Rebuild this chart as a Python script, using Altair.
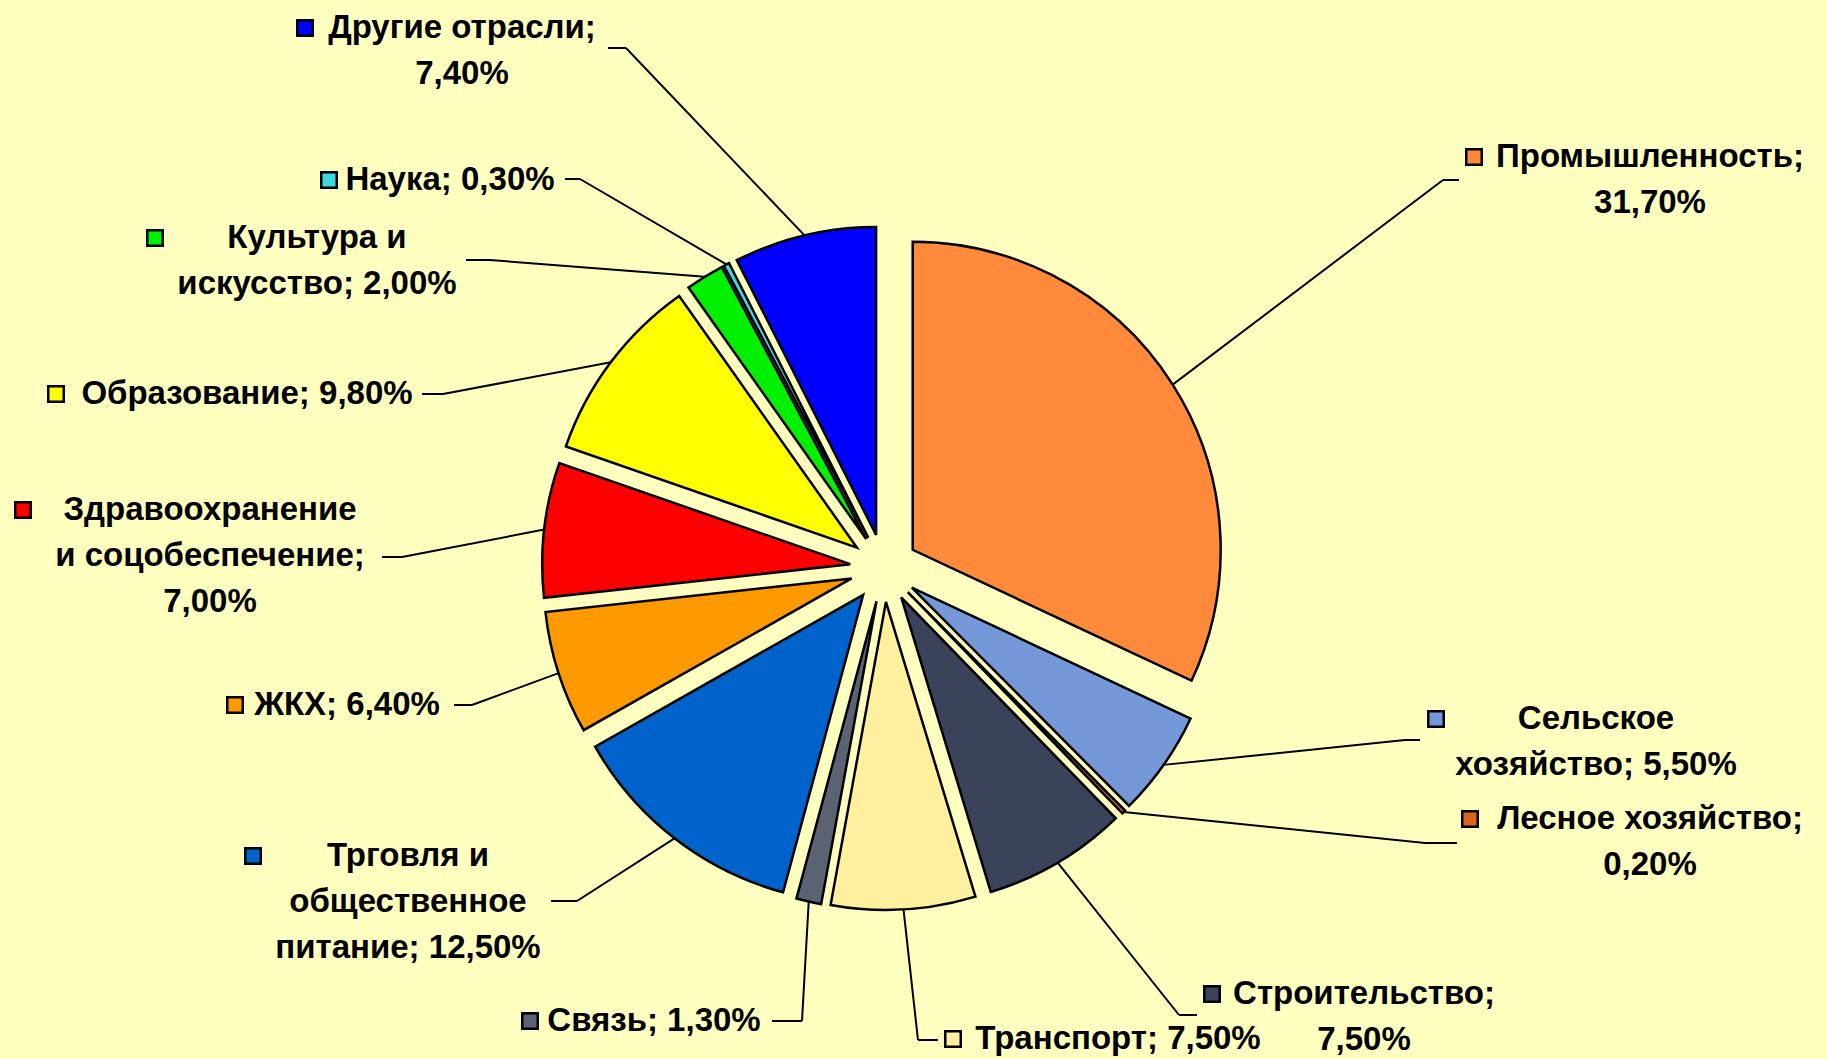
import math
import altair as alt
import pandas as pd

# ---------------- data ----------------
categories = [
    "Промышленность", "Сельское хозяйство", "Лесное хозяйство", "Строительство",
    "Транспорт", "Связь", "Трговля и общественное питание", "ЖКХ",
    "Здравоохранение и соцобеспечение", "Образование", "Культура и искусство",
    "Наука", "Другие отрасли",
]
values = [31.7, 5.5, 0.2, 7.5, 7.5, 1.3, 12.5, 6.4, 7.0, 9.8, 2.0, 0.3, 7.4]
label_templates = [
    ["Промышленность;", "{p}"],
    ["Сельское", "хозяйство; {p}"],
    ["Лесное хозяйство;", "{p}"],
    ["Строительство;", "{p}"],
    ["Транспорт; {p}"],
    ["Связь; {p}"],
    ["Трговля и", "общественное", "питание; {p}"],
    ["ЖКХ; {p}"],
    ["Здравоохранение", "и соцобеспечение;", "{p}"],
    ["Образование; {p}"],
    ["Культура и", "искусство; {p}"],
    ["Наука; {p}"],
    ["Другие отрасли;", "{p}"],
]

# ---------------- style ----------------
colors = [
    "#FF8A3C", "#7598D8", "#D9661F", "#3B435A", "#FFF0A0", "#5B6272",
    "#0063CC", "#FF9900", "#FF0000", "#FFFF00", "#00F000", "#40D8E0", "#0000FF",
]
BG = "#FFFFC0"
FONT = "Liberation Sans"
FONT_SIZE = 33
LINE_H = 46

# ---------------- layout (pixels) ----------------
W, H = 1827, 1059
CX, CY = 884, 568
R = 308
EXPLODE = 34
label_cx = [1650, 1596, 1650, 1364, 1118, 654, 408, 347, 210, 247, 317, 450, 462]
label_y1 = [157, 719, 819, 994, 1039, 1021, 856, 705, 510, 394, 238, 180, 28]
key_x = [1474, 1436, 1470, 1212, 953, 530, 253, 235, 23, 56, 155, 329, 305]
elbow_x = [1443, 1405, 1425, 1179, 918, 802, 577, 472, 402, 443, 490, 580, 626]
elbow_y = [180, 740, 843, 1015, 1040, 1021, 901, 705, 557, 394, 260, 179, 48]
end_x = [1459, 1420, 1457, 1197, 938, 772, 551, 454, 382, 422, 466, 565, 608]

TOTAL = sum(values)

def pct(v):
    return f"{v:.2f}".replace(".", ",") + "%"

df = pd.DataFrame({
    "category": categories,
    "value": values,
    "order": list(range(len(categories))),
    "elbow_x": elbow_x,
    "elbow_y": elbow_y,
    "end_x": end_x,
})

text_rows = []
for i, (cat, v, tpl) in enumerate(zip(categories, values, label_templates)):
    for j, line in enumerate(tpl):
        text_rows.append({"category": cat, "text": line.format(p=pct(v)),
                          "x": label_cx[i], "y": label_y1[i] + j * LINE_H})
df_text = pd.DataFrame(text_rows)
df_keys = pd.DataFrame({"category": categories, "x": key_x, "y": label_y1})

color = alt.Color("category:N", scale=alt.Scale(domain=categories, range=colors), legend=None)

base = (
    alt.Chart(df)
    .transform_window(s1="sum(value)", sort=[alt.SortField("order", order="ascending")], frame=[None, 0])
    .transform_calculate(s0="datum.s1 - datum.value")
    .transform_calculate(mid=f"(datum.s1 - datum.value / 2) / {TOTAL} * 2 * PI")
    .transform_calculate(cx=f"{CX} + {EXPLODE} * sin(datum.mid)")
    .transform_calculate(cy=f"{CY} - {EXPLODE} * cos(datum.mid)")
    .transform_calculate(sx=f"datum.cx + {R} * sin(datum.mid)")
    .transform_calculate(sy=f"datum.cy - {R} * cos(datum.mid)")
)

arcs = base.mark_arc(radius=R, stroke="black", strokeWidth=2.5, strokeJoin="miter").encode(
    theta=alt.Theta("s0:Q", scale=alt.Scale(domain=[0, TOTAL], range=[0, 2 * math.pi])),
    theta2="s1:Q",
    x=alt.X("cx:Q", scale=None, axis=None),
    y=alt.Y("cy:Q", scale=None, axis=None),
    color=color,
)

leader1 = base.mark_rule(color="black", strokeWidth=2).encode(
    x=alt.X("sx:Q", scale=None, axis=None),
    y=alt.Y("sy:Q", scale=None, axis=None),
    x2="elbow_x:Q",
    y2="elbow_y:Q",
)
leader2 = base.mark_rule(color="black", strokeWidth=2).encode(
    x=alt.X("elbow_x:Q", scale=None, axis=None),
    y=alt.Y("elbow_y:Q", scale=None, axis=None),
    x2="end_x:Q",
)

keys = alt.Chart(df_keys).mark_square(size=240, stroke="black", strokeWidth=2.5, opacity=1).encode(
    x=alt.X("x:Q", scale=None, axis=None),
    y=alt.Y("y:Q", scale=None, axis=None),
    color=color,
)

texts = alt.Chart(df_text).mark_text(
    font=FONT, fontSize=FONT_SIZE, fontWeight="bold", align="center", baseline="middle", color="black"
).encode(
    x=alt.X("x:Q", scale=None, axis=None),
    y=alt.Y("y:Q", scale=None, axis=None),
    text="text:N",
)

chart = (
    alt.layer(leader1, leader2, arcs, keys, texts)
    .properties(width=W, height=H, autosize=alt.AutoSizeParams(type="none"), padding=0, background=BG)
    .configure_view(stroke=None)
)

chart.save("out.html", embed_options={"renderer": "svg", "actions": False})
